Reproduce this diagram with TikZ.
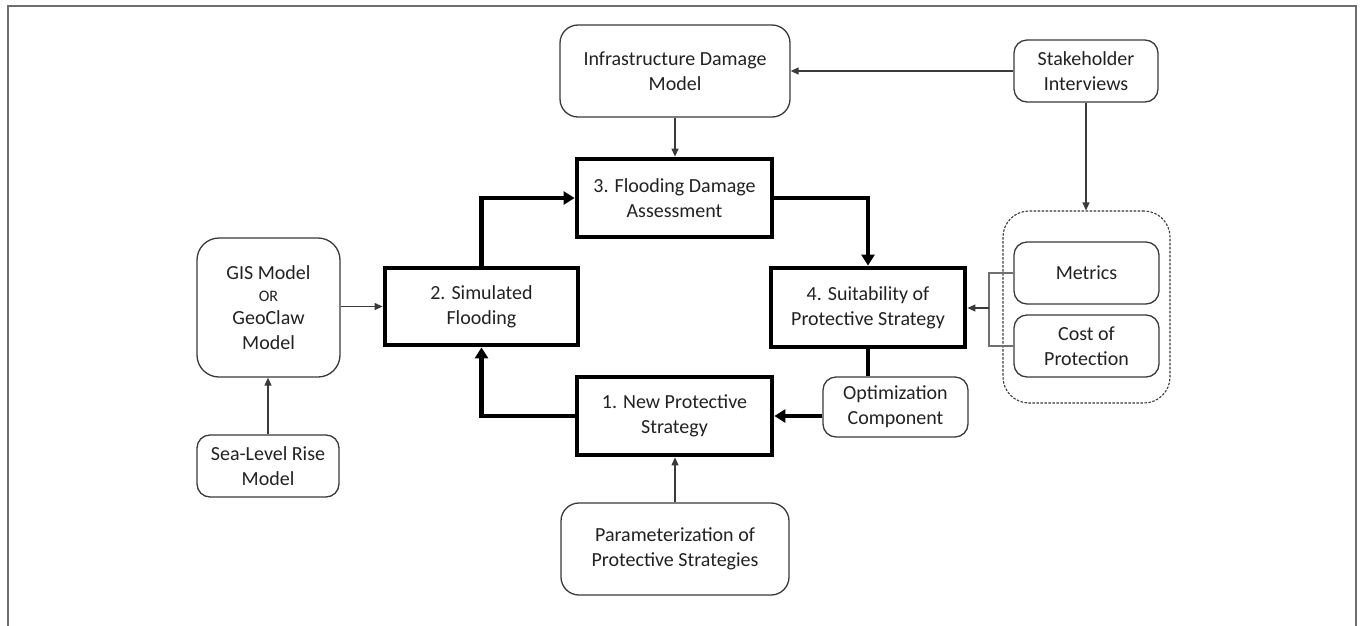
\documentclass[tikz,border=0pt]{standalone}
\usepackage{fontspec}
\setmainfont{Carlito}
\usetikzlibrary{arrows.meta,calc}
\definecolor{txt}{HTML}{222222}
\definecolor{edgec}{HTML}{3A3A3A}
\definecolor{framec}{HTML}{6E6E6E}
\definecolor{brk}{HTML}{707070}
\begin{document}
\begin{tikzpicture}[x=1pt,y=-1pt,
  every node/.style={text=txt, font=\fontsize{20}{25}\selectfont, align=center, inner sep=0pt},
  boxsoft/.style={draw=edgec, line width=1.3pt, rounded corners=13pt},
  boxhard/.style={draw=black, line width=4.8pt},
  conn/.style={draw=edgec, line width=1.2pt, -{Triangle[length=8pt,width=7pt]}},
  bigconn/.style={draw=black, line width=4.2pt, -{Triangle[length=11pt,width=13pt]}},
]
\useasboundingbox (0,0) rectangle (1360,625);
\fill[white] (0,0) rectangle (1360,625);
\draw[draw=framec, line width=1.6pt] (8,630) -- (8,6) -- (1356,6) -- (1356,630);

% soft boxes
\node[boxsoft, minimum width=230pt, minimum height=92pt, rounded corners=18pt] (infra) at (675,71) {Infrastructure Damage\\Model};
\node[boxsoft, minimum width=144pt, minimum height=62pt] (stake) at (1086,71) {Stakeholder\\Interviews};
\node[boxsoft, minimum width=143pt, minimum height=139pt, rounded corners=22pt] (gis) at (268.5,307.5)
  {GIS Model\\[-3pt]{\fontsize{16}{19}\selectfont OR}\\[-2pt]GeoClaw\\Model};
\node[boxsoft, minimum width=142pt, minimum height=62pt] (sea) at (268,466) {Sea-Level Rise\\Model};
\node[boxsoft, minimum width=145pt, minimum height=60pt] (opt) at (895.5,407) {Optimization\\Component};
\node[boxsoft, minimum width=228pt, minimum height=92pt, rounded corners=18pt] (param) at (675,549) {Parameterization of\\Protective Strategies};

% dashed group
\node[draw=edgec, line width=1.1pt, dash pattern=on 2.5pt off 1.5pt, rounded corners=26pt,
  minimum width=167pt, minimum height=192pt] (grp) at (1086.5,307) {};
\node[boxsoft, minimum width=145pt, minimum height=62pt] (met) at (1086.5,273) {Metrics};
\node[boxsoft, minimum width=145pt, minimum height=62pt] (cost) at (1086.5,346) {Cost of\\Protection};

% thick boxes
\node[boxhard, minimum width=195pt, minimum height=78pt] (flood) at (674.5,198) {3. Flooding Damage\\Assessment};
\node[boxhard, minimum width=193pt, minimum height=77pt] (sim) at (481.5,306.5) {2. Simulated\\Flooding};
\node[boxhard, minimum width=194pt, minimum height=79pt] (suit) at (868,307.5) {4. Suitability of\\Protective Strategy};
\node[boxhard, minimum width=195pt, minimum height=78pt] (newp) at (674.5,416) {1. New Protective\\Strategy};

\coordinate (br) at (989,308);

% thin connectors
\draw[conn] (stake.west) -- (stake.west -| infra.east);
\draw[conn] (infra.south) -- (infra.south |- flood.north);
\draw[conn] (stake.south) -- (stake.south |- grp.north);
\draw[conn] (gis.east |- sim.west) -- (sim.west);
\draw[conn] (sea.north) -- (sea.north |- gis.south);
\draw[conn] (param.north) -- (param.north |- newp.south);
\draw[draw=brk, line width=1.2pt] (met.west) -| (br) |- (cost.west);
\draw[conn] (br) -- (br -| suit.east);

% thick connectors
\draw[bigconn] (sim.north) |- (flood.west);
\draw[bigconn] (flood.east) -| (suit.north);
\draw[bigconn] (newp.west) -| (sim.south);
\draw[draw=black, line width=4.2pt] (suit.south) -- (suit.south |- opt.north);
\draw[bigconn] (opt.west |- newp.east) -- (newp.east);
\end{tikzpicture}
\end{document}
